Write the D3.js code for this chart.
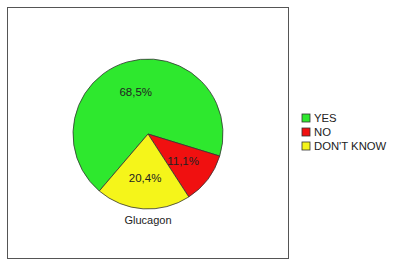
<!DOCTYPE html>
<html>
<head>
<meta charset="utf-8">
<script src="https://cdn.jsdelivr.net/npm/d3@7"></script>
<style>
  body { margin: 0; background: #fff; }
  text { font-family: "Liberation Sans", Arial, sans-serif; }
</style>
</head>
<body>
<div id="chart"></div>
<script>
// Data
const categories = ["YES", "NO", "DON'T KNOW"];
const values = [68.5, 11.1, 20.4];
const sliceLabels = ["68,5%", "11,1%", "20,4%"];
const colors = ["#2ee82e", "#f01010", "#f5f51a"];
const chartTitle = "Glucagon";

const width = 400, height = 266;

const svg = d3.select("#chart")
    .append("svg")
    .attr("width", width)
    .attr("height", height);

// outer frame
svg.append("rect")
    .attr("x", 7.5)
    .attr("y", 7.5)
    .attr("width", 281)
    .attr("height", 251)
    .attr("fill", "none")
    .attr("stroke", "#555")
    .attr("stroke-width", 1);

const cx = 148, cy = 134, radius = 75;
const start = 220.5 * Math.PI / 180;

const pie = d3.pie()
    .sort(null)
    .value(d => d)
    .startAngle(start)
    .endAngle(start + 2 * Math.PI);

const arc = d3.arc().innerRadius(0).outerRadius(radius);
const labelArc = d3.arc().innerRadius(44).outerRadius(44);

const g = svg.append("g")
    .attr("transform", `translate(${cx},${cy})`);

const arcs = pie(values);

g.selectAll("path")
    .data(arcs)
    .enter()
    .append("path")
    .attr("d", arc)
    .attr("fill", (d, i) => colors[i])
    .attr("stroke", "#333")
    .attr("stroke-width", 0.8);

g.selectAll("text.lbl")
    .data(arcs)
    .enter()
    .append("text")
    .attr("class", "lbl")
    .attr("transform", d => `translate(${labelArc.centroid(d)})`)
    .attr("text-anchor", "middle")
    .attr("dy", "0.35em")
    .attr("font-size", 11.5)
    .attr("fill", "#222")
    .text((d, i) => sliceLabels[i]);

svg.append("text")
    .attr("x", cx)
    .attr("y", 224)
    .attr("text-anchor", "middle")
    .attr("font-size", 11)
    .attr("fill", "#222")
    .text(chartTitle);

// legend
const legend = svg.append("g")
    .attr("transform", "translate(302,114)");

const item = legend.selectAll("g")
    .data(categories)
    .enter()
    .append("g")
    .attr("transform", (d, i) => `translate(0,${i * 14})`);

item.append("rect")
    .attr("width", 8)
    .attr("height", 8)
    .attr("fill", (d, i) => colors[i])
    .attr("stroke", "#333")
    .attr("stroke-width", 0.8);

item.append("text")
    .attr("x", 12)
    .attr("y", 4)
    .attr("dy", "0.35em")
    .attr("font-size", 11.3)
    .attr("fill", "#222")
    .text(d => d);
</script>
</body>
</html>
